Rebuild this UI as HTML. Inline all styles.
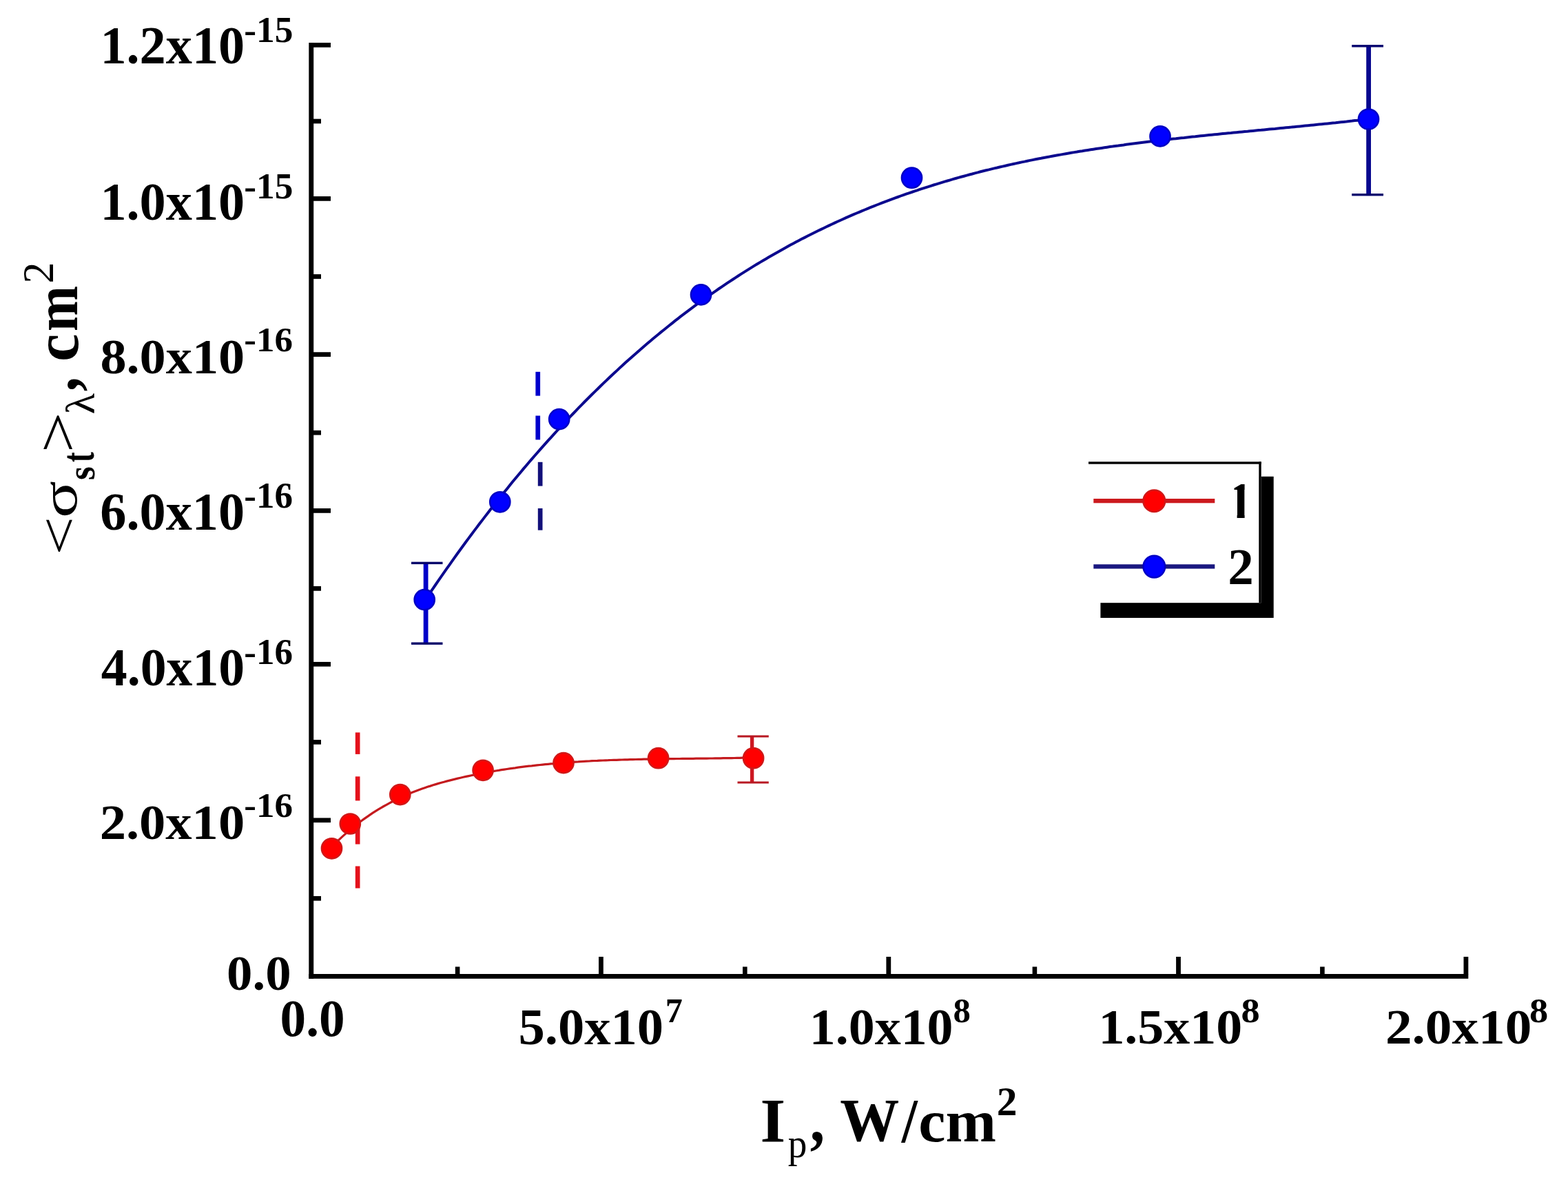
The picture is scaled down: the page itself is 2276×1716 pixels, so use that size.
<!DOCTYPE html>
<html><head><meta charset="utf-8"><style>
html,body{margin:0;padding:0;background:#fff;overflow:hidden}
svg{display:block}
</style></head><body>
<svg width="2276" height="1716" viewBox="0 0 2276 1716">
<rect x="0" y="0" width="2276" height="1716" fill="#fff"/>
<rect x="448.3" y="62" width="6.9" height="1358.8" fill="#000"/>
<rect x="448.3" y="1414.0" width="1683.0" height="6.8" fill="#000"/>
<rect x="454.7" y="62.05" width="25.3" height="6.7" fill="#000"/>
<rect x="454.7" y="285.05" width="25.3" height="6.7" fill="#000"/>
<rect x="454.7" y="511.25" width="25.3" height="6.7" fill="#000"/>
<rect x="454.7" y="738.05" width="25.3" height="6.7" fill="#000"/>
<rect x="454.7" y="960.95" width="25.3" height="6.7" fill="#000"/>
<rect x="454.7" y="1187.45" width="25.3" height="6.7" fill="#000"/>
<rect x="454.7" y="172.65" width="11.3" height="6.7" fill="#000"/>
<rect x="454.7" y="398.15" width="11.3" height="6.7" fill="#000"/>
<rect x="454.7" y="624.85" width="11.3" height="6.7" fill="#000"/>
<rect x="454.7" y="851.05" width="11.3" height="6.7" fill="#000"/>
<rect x="454.7" y="1074.05" width="11.3" height="6.7" fill="#000"/>
<rect x="454.7" y="1300.95" width="11.3" height="6.7" fill="#000"/>
<rect x="869.00" y="1389" width="6.8" height="25.5" fill="#000"/>
<rect x="1286.40" y="1389" width="6.8" height="25.5" fill="#000"/>
<rect x="1707.10" y="1389" width="6.8" height="25.5" fill="#000"/>
<rect x="2124.50" y="1389" width="6.8" height="25.5" fill="#000"/>
<rect x="660.80" y="1403.5" width="6.6" height="11.0" fill="#000"/>
<rect x="1078.00" y="1403.5" width="6.6" height="11.0" fill="#000"/>
<rect x="1498.60" y="1403.5" width="6.6" height="11.0" fill="#000"/>
<rect x="1916.10" y="1403.5" width="6.6" height="11.0" fill="#000"/>
<text transform="translate(145.40,92.11) scale(0.9792,1)" font-family="'Liberation Serif', serif" font-weight="bold" font-size="77.91" fill="#000">1.2x10</text>
<text transform="translate(354.33,60.87) scale(1.0131,1)" font-family="'Liberation Serif', serif" font-weight="bold" font-size="52.69" fill="#000">-15</text>
<text transform="translate(145.40,318.91) scale(0.9792,1)" font-family="'Liberation Serif', serif" font-weight="bold" font-size="77.91" fill="#000">1.0x10</text>
<text transform="translate(354.33,287.57) scale(1.0160,1)" font-family="'Liberation Serif', serif" font-weight="bold" font-size="52.54" fill="#000">-15</text>
<text transform="translate(145.38,542.18) scale(1.0466,1)" font-family="'Liberation Serif', serif" font-weight="bold" font-size="72.90" fill="#000">8.0x10</text>
<text transform="translate(354.34,510.19) scale(1.0301,1)" font-family="'Liberation Serif', serif" font-weight="bold" font-size="51.49" fill="#000">-16</text>
<text transform="translate(145.30,768.51) scale(0.9797,1)" font-family="'Liberation Serif', serif" font-weight="bold" font-size="77.91" fill="#000">6.0x10</text>
<text transform="translate(354.34,737.18) scale(1.0126,1)" font-family="'Liberation Serif', serif" font-weight="bold" font-size="52.38" fill="#000">-16</text>
<text transform="translate(146.84,994.91) scale(0.9724,1)" font-family="'Liberation Serif', serif" font-weight="bold" font-size="77.91" fill="#000">4.0x10</text>
<text transform="translate(354.34,963.57) scale(1.0097,1)" font-family="'Liberation Serif', serif" font-weight="bold" font-size="52.53" fill="#000">-16</text>
<text transform="translate(144.68,1217.88) scale(1.0501,1)" font-family="'Liberation Serif', serif" font-weight="bold" font-size="72.90" fill="#000">2.0x10</text>
<text transform="translate(354.34,1186.49) scale(1.0331,1)" font-family="'Liberation Serif', serif" font-weight="bold" font-size="51.34" fill="#000">-16</text>
<text transform="translate(329.06,1437.48) scale(1.0259,1)" font-family="'Liberation Serif', serif" font-weight="bold" font-size="72.90" fill="#000">0.0</text>
<text transform="translate(406.54,1503.64) scale(0.9955,1)" font-family="'Liberation Serif', serif" font-weight="bold" font-size="75.55" fill="#000">0.0</text>
<text transform="translate(752.54,1515.77) scale(1.0419,1)" font-family="'Liberation Serif', serif" font-weight="bold" font-size="73.49" fill="#000">5.0x10</text>
<text transform="translate(965.74,1483.70) scale(0.9741,1)" font-family="'Liberation Serif', serif" font-weight="bold" font-size="51.45" fill="#000">7</text>
<text transform="translate(1174.83,1515.67) scale(1.0309,1)" font-family="'Liberation Serif', serif" font-weight="bold" font-size="73.64" fill="#000">1.0x10</text>
<text transform="translate(1383.43,1483.89) scale(0.9947,1)" font-family="'Liberation Serif', serif" font-weight="bold" font-size="50.96" fill="#000">8</text>
<text transform="translate(1594.43,1515.48) scale(1.0434,1)" font-family="'Liberation Serif', serif" font-weight="bold" font-size="72.75" fill="#000">1.5x10</text>
<text transform="translate(1801.61,1483.89) scale(1.0670,1)" font-family="'Liberation Serif', serif" font-weight="bold" font-size="50.96" fill="#000">8</text>
<text transform="translate(2010.96,1515.48) scale(1.0610,1)" font-family="'Liberation Serif', serif" font-weight="bold" font-size="72.75" fill="#000">2.0x10</text>
<text transform="translate(2220.11,1483.89) scale(1.0670,1)" font-family="'Liberation Serif', serif" font-weight="bold" font-size="50.96" fill="#000">8</text>
<text transform="translate(1103.39,1657.80) scale(1.0341,1)" font-family="'Liberation Serif', serif" font-weight="bold" font-size="91.30" fill="#000">I</text>
<text transform="translate(1143.72,1680.19) scale(0.9268,1)" font-family="'Liberation Serif', serif" font-weight="normal" font-size="59.65" fill="#000">p</text>
<text transform="translate(1175.68,1657.37) scale(0.9106,1)" font-family="'Liberation Serif', serif" font-weight="bold" font-size="94.37" fill="#000">,</text>
<text transform="translate(1219.29,1656.46) scale(0.9645,1)" font-family="'Liberation Serif', serif" font-weight="bold" font-size="89.25" fill="#000">W</text>
<text transform="translate(1308.63,1658.09) scale(0.9090,1)" font-family="'Liberation Serif', serif" font-weight="bold" font-size="91.18" fill="#000">/</text>
<text transform="translate(1333.30,1657.02) scale(1.0134,1)" font-family="'Liberation Serif', serif" font-weight="bold" font-size="87.08" fill="#000">cm</text>
<text transform="translate(1446.80,1618.90) scale(1.0103,1)" font-family="'Liberation Serif', serif" font-weight="bold" font-size="58.91" fill="#000">2</text>
<text transform="rotate(-90) translate(-805.97,111.90) scale(1.2562,1)" font-family="'Liberation Serif', serif" font-weight="normal" font-size="79.09" fill="#000">&lt;</text>
<text transform="rotate(-90) translate(-752.02,111.27) scale(1.3685,1)" font-family="'Liberation Serif', serif" font-weight="normal" font-size="73.37" fill="#000">σ</text>
<text transform="rotate(-90) translate(-696.93,136.52) scale(0.8864,1)" font-family="'Liberation Serif', serif" font-weight="bold" font-size="57.59" fill="#000">s</text>
<text transform="rotate(-90) translate(-671.01,136.43) scale(0.6596,1)" font-family="'Liberation Serif', serif" font-weight="bold" font-size="66.84" fill="#000">t</text>
<text transform="rotate(-90) translate(-657.24,112.61) scale(1.2044,1)" font-family="'Liberation Serif', serif" font-weight="normal" font-size="86.96" fill="#000">&gt;</text>
<text transform="rotate(-90) translate(-601.54,136.60) scale(1.0790,1)" font-family="'Liberation Serif', serif" font-weight="normal" font-size="58.38" fill="#000">λ</text>
<text transform="rotate(-90) translate(-568.19,111.87) scale(0.8893,1)" font-family="'Liberation Serif', serif" font-weight="bold" font-size="94.37" fill="#000">,</text>
<text transform="rotate(-90) translate(-524.91,113.08) scale(1.0066,1)" font-family="'Liberation Serif', serif" font-weight="bold" font-size="90.83" fill="#000">c</text>
<text transform="rotate(-90) translate(-481.15,112.20) scale(0.8961,1)" font-family="'Liberation Serif', serif" font-weight="bold" font-size="88.96" fill="#000">m</text>
<text transform="rotate(-90) translate(-411.53,76.90) scale(0.9741,1)" font-family="'Liberation Serif', serif" font-weight="normal" font-size="63.75" fill="#000">2</text>
<path d="M616.2,872.5 L620.2,866.6 L624.2,860.7 L628.2,854.8 L632.2,849.0 L636.2,843.1 L640.2,837.4 L644.2,831.6 L648.2,825.9 L652.2,820.3 L656.2,814.7 L660.1,809.1 L664.1,803.5 L668.1,798.0 L672.1,792.5 L676.1,787.0 L680.1,781.6 L684.1,776.3 L688.1,770.9 L692.1,765.6 L696.1,760.3 L700.1,755.1 L704.1,749.9 L708.1,744.7 L712.1,739.5 L716.1,734.4 L720.1,729.4 L724.1,724.3 L728.1,719.3 L732.1,714.3 L736.1,709.4 L740.0,704.5 L744.0,699.6 L748.0,694.8 L752.0,690.0 L756.0,685.2 L760.0,680.4 L764.0,675.7 L768.0,671.0 L772.0,666.4 L776.0,661.8 L780.0,657.2 L784.0,652.6 L788.0,648.1 L792.0,643.6 L796.0,639.2 L800.0,634.8 L804.0,630.4 L808.0,626.0 L812.0,621.7 L816.0,617.4 L819.9,613.1 L823.9,608.8 L827.9,604.6 L831.9,600.5 L835.9,596.3 L839.9,592.2 L843.9,588.1 L847.9,584.0 L851.9,580.0 L855.9,576.0 L859.9,572.0 L863.9,568.1 L867.9,564.2 L871.9,560.3 L875.9,556.4 L879.9,552.6 L883.9,548.8 L887.9,545.0 L891.9,541.3 L895.9,537.6 L899.8,533.9 L903.8,530.2 L907.8,526.6 L911.8,523.0 L915.8,519.4 L919.8,515.9 L923.8,512.4 L927.8,508.9 L931.8,505.4 L935.8,502.0 L939.8,498.6 L943.8,495.2 L947.8,491.8 L951.8,488.5 L955.8,485.2 L959.8,481.9 L963.8,478.7 L967.8,475.5 L971.8,472.3 L975.8,469.1 L979.7,465.9 L983.7,462.8 L987.7,459.7 L991.7,456.7 L995.7,453.6 L999.7,450.6 L1003.7,447.6 L1007.7,444.6 L1011.7,441.7 L1015.7,438.8 L1019.7,435.9 L1023.7,433.0 L1027.7,430.2 L1031.7,427.4 L1035.7,424.6 L1039.7,421.8 L1043.7,419.0 L1047.7,416.3 L1051.7,413.6 L1055.7,410.9 L1059.6,408.3 L1063.6,405.7 L1067.6,403.1 L1071.6,400.5 L1075.6,397.9 L1079.6,395.4 L1083.6,392.9 L1087.6,390.4 L1091.6,387.9 L1095.6,385.4 L1099.6,383.0 L1103.6,380.6 L1107.6,378.2 L1111.6,375.9 L1115.6,373.5 L1119.6,371.2 L1123.6,368.9 L1127.6,366.7 L1131.6,364.4 L1135.6,362.2 L1139.6,360.0 L1143.5,357.8 L1147.5,355.6 L1151.5,353.5 L1155.5,351.3 L1159.5,349.2 L1163.5,347.1 L1167.5,345.1 L1171.5,343.0 L1175.5,341.0 L1179.5,339.0 L1183.5,337.0 L1187.5,335.0 L1191.5,333.1 L1195.5,331.2 L1199.5,329.3 L1203.5,327.4 L1207.5,325.5 L1211.5,323.6 L1215.5,321.8 L1219.5,320.0 L1223.4,318.2 L1227.4,316.4 L1231.4,314.7 L1235.4,312.9 L1239.4,311.2 L1243.4,309.5 L1247.4,307.8 L1251.4,306.1 L1255.4,304.5 L1259.4,302.8 L1263.4,301.2 L1267.4,299.6 L1271.4,298.0 L1275.4,296.5 L1279.4,294.9 L1283.4,293.4 L1287.4,291.9 L1291.4,290.4 L1295.4,288.9 L1299.4,287.4 L1303.3,286.0 L1307.3,284.5 L1311.3,283.1 L1315.3,281.7 L1319.3,280.3 L1323.3,279.0 L1327.3,277.6 L1331.3,276.3 L1335.3,274.9 L1339.3,273.6 L1343.3,272.3 L1347.3,271.1 L1351.3,269.8 L1355.3,268.5 L1359.3,267.3 L1363.3,266.1 L1367.3,264.9 L1371.3,263.7 L1375.3,262.5 L1379.3,261.3 L1383.2,260.2 L1387.2,259.0 L1391.2,257.9 L1395.2,256.8 L1399.2,255.7 L1403.2,254.6 L1407.2,253.5 L1411.2,252.5 L1415.2,251.4 L1419.2,250.4 L1423.2,249.3 L1427.2,248.3 L1431.2,247.3 L1435.2,246.4 L1439.2,245.4 L1443.2,244.4 L1447.2,243.5 L1451.2,242.5 L1455.2,241.6 L1459.2,240.7 L1463.1,239.8 L1467.1,238.9 L1471.1,238.0 L1475.1,237.1 L1479.1,236.3 L1483.1,235.4 L1487.1,234.6 L1491.1,233.7 L1495.1,232.9 L1499.1,232.1 L1503.1,231.3 L1507.1,230.5 L1511.1,229.8 L1515.1,229.0 L1519.1,228.2 L1523.1,227.5 L1527.1,226.7 L1531.1,226.0 L1535.1,225.3 L1539.1,224.6 L1543.1,223.9 L1547.0,223.2 L1551.0,222.5 L1555.0,221.8 L1559.0,221.1 L1563.0,220.5 L1567.0,219.8 L1571.0,219.2 L1575.0,218.5 L1579.0,217.9 L1583.0,217.3 L1587.0,216.7 L1591.0,216.1 L1595.0,215.5 L1599.0,214.9 L1603.0,214.3 L1607.0,213.7 L1611.0,213.1 L1615.0,212.6 L1619.0,212.0 L1623.0,211.5 L1626.9,210.9 L1630.9,210.4 L1634.9,209.8 L1638.9,209.3 L1642.9,208.8 L1646.9,208.3 L1650.9,207.8 L1654.9,207.3 L1658.9,206.8 L1662.9,206.3 L1666.9,205.8 L1670.9,205.3 L1674.9,204.8 L1678.9,204.4 L1682.9,203.9 L1686.9,203.4 L1690.9,203.0 L1694.9,202.5 L1698.9,202.1 L1702.9,201.6 L1706.8,201.2 L1710.8,200.7 L1714.8,200.3 L1718.8,199.9 L1722.8,199.4 L1726.8,199.0 L1730.8,198.6 L1734.8,198.2 L1738.8,197.7 L1742.8,197.3 L1746.8,196.9 L1750.8,196.5 L1754.8,196.1 L1758.8,195.7 L1762.8,195.3 L1766.8,194.9 L1770.8,194.5 L1774.8,194.1 L1778.8,193.7 L1782.8,193.3 L1786.7,193.0 L1790.7,192.6 L1794.7,192.2 L1798.7,191.8 L1802.7,191.4 L1806.7,191.0 L1810.7,190.7 L1814.7,190.3 L1818.7,189.9 L1822.7,189.5 L1826.7,189.1 L1830.7,188.8 L1834.7,188.4 L1838.7,188.0 L1842.7,187.6 L1846.7,187.2 L1850.7,186.9 L1854.7,186.5 L1858.7,186.1 L1862.7,185.7 L1866.6,185.3 L1870.6,184.9 L1874.6,184.6 L1878.6,184.2 L1882.6,183.8 L1886.6,183.4 L1890.6,183.0 L1894.6,182.6 L1898.6,182.2 L1902.6,181.8 L1906.6,181.4 L1910.6,181.0 L1914.6,180.6 L1918.6,180.2 L1922.6,179.8 L1926.6,179.4 L1930.6,179.0 L1934.6,178.6 L1938.6,178.2 L1942.6,177.7 L1946.5,177.3 L1950.5,176.9 L1954.5,176.5 L1958.5,176.0 L1962.5,175.6 L1966.5,175.1 L1970.5,174.7 L1974.5,174.2 L1978.5,173.8 L1982.5,173.3 L1986.5,172.9" fill="none" stroke="#0c0a8e" stroke-width="4"/>
<path d="M481.5,1229.4 L485.5,1225.4 L489.4,1221.6 L493.4,1217.8 L497.4,1214.1 L501.4,1210.6 L505.3,1207.1 L509.3,1203.8 L513.3,1200.5 L517.3,1197.3 L521.2,1194.3 L525.2,1191.3 L529.2,1188.4 L533.2,1185.6 L537.1,1182.9 L541.1,1180.2 L545.1,1177.7 L549.1,1175.2 L553.0,1172.8 L557.0,1170.5 L561.0,1168.3 L565.0,1166.1 L568.9,1164.0 L572.9,1162.0 L576.9,1160.0 L580.9,1158.1 L584.8,1156.3 L588.8,1154.5 L592.8,1152.8 L596.8,1151.1 L600.7,1149.6 L604.7,1148.0 L608.7,1146.5 L612.7,1145.1 L616.6,1143.7 L620.6,1142.3 L624.6,1141.1 L628.6,1139.8 L632.5,1138.6 L636.5,1137.4 L640.5,1136.3 L644.5,1135.2 L648.4,1134.1 L652.4,1133.1 L656.4,1132.1 L660.4,1131.1 L664.3,1130.1 L668.3,1129.2 L672.3,1128.3 L676.3,1127.4 L680.2,1126.6 L684.2,1125.7 L688.2,1124.9 L692.2,1124.1 L696.1,1123.3 L700.1,1122.6 L704.1,1121.8 L708.1,1121.1 L712.0,1120.4 L716.0,1119.7 L720.0,1119.0 L724.0,1118.4 L727.9,1117.7 L731.9,1117.1 L735.9,1116.5 L739.9,1115.9 L743.8,1115.3 L747.8,1114.8 L751.8,1114.2 L755.8,1113.7 L759.7,1113.2 L763.7,1112.7 L767.7,1112.2 L771.7,1111.8 L775.6,1111.3 L779.6,1110.9 L783.6,1110.5 L787.5,1110.1 L791.5,1109.7 L795.5,1109.3 L799.5,1108.9 L803.4,1108.6 L807.4,1108.2 L811.4,1107.9 L815.4,1107.6 L819.3,1107.2 L823.3,1107.0 L827.3,1106.7 L831.3,1106.4 L835.2,1106.1 L839.2,1105.9 L843.2,1105.6 L847.2,1105.4 L851.1,1105.2 L855.1,1105.0 L859.1,1104.7 L863.1,1104.5 L867.0,1104.4 L871.0,1104.2 L875.0,1104.0 L879.0,1103.8 L882.9,1103.7 L886.9,1103.5 L890.9,1103.4 L894.9,1103.3 L898.8,1103.1 L902.8,1103.0 L906.8,1102.9 L910.8,1102.8 L914.7,1102.7 L918.7,1102.6 L922.7,1102.5 L926.7,1102.4 L930.6,1102.3 L934.6,1102.2 L938.6,1102.2 L942.6,1102.1 L946.5,1102.0 L950.5,1101.9 L954.5,1101.9 L958.5,1101.8 L962.4,1101.8 L966.4,1101.7 L970.4,1101.7 L974.4,1101.6 L978.3,1101.6 L982.3,1101.5 L986.3,1101.5 L990.3,1101.4 L994.2,1101.4 L998.2,1101.4 L1002.2,1101.3 L1006.2,1101.3 L1010.1,1101.2 L1014.1,1101.2 L1018.1,1101.1 L1022.1,1101.1 L1026.0,1101.1 L1030.0,1101.0 L1034.0,1101.0 L1038.0,1100.9 L1041.9,1100.9 L1045.9,1100.8 L1049.9,1100.7 L1053.9,1100.7 L1057.8,1100.6 L1061.8,1100.6 L1065.8,1100.5 L1069.8,1100.4 L1073.7,1100.3 L1077.7,1100.2 L1081.7,1100.2 L1085.7,1100.1 L1089.6,1100.0 L1093.6,1099.9" fill="none" stroke="#c41a1e" stroke-width="3.2"/>
<rect x="777.4" y="539.8" width="6.7" height="34.8" fill="#0000cc"/>
<rect x="777.4" y="603.5" width="6.7" height="34.9" fill="#0000cc"/>
<rect x="780.8" y="670.8" width="6.7" height="34.8" fill="#12107a"/>
<rect x="780.8" y="738" width="6.7" height="31.7" fill="#12107a"/>
<rect x="515.8" y="1063.4" width="6.7" height="31.5" fill="#e4121c"/>
<rect x="515.8" y="1127.3" width="6.7" height="35.1" fill="#e4121c"/>
<rect x="515.8" y="1191" width="6.7" height="34.6" fill="#e4121c"/>
<rect x="515.8" y="1257.5" width="6.7" height="32.0" fill="#e4121c"/>
<rect x="614.70" y="817.4" width="6.8" height="116.8" fill="#0000c8"/><rect x="597" y="815.7" width="45.5" height="3.4" fill="#06046a"/><rect x="597" y="932.5" width="45.5" height="3.4" fill="#06046a"/>
<rect x="1983.20" y="66.8" width="6.8" height="215.9" fill="#08088e"/><rect x="1962.2" y="65.1" width="45.8" height="3.4" fill="#06046e"/><rect x="1962.2" y="281.0" width="45.8" height="3.4" fill="#06046e"/>
<rect x="1088.90" y="1069.0" width="5.4" height="67.0" fill="#cc1822"/><rect x="1070.5" y="1067.5" width="45.3" height="3.0" fill="#b81822"/><rect x="1070.5" y="1134.5" width="45.3" height="3.0" fill="#b81822"/>
<circle cx="616.2" cy="870.6" r="14.6" fill="#0000ff" stroke="#0000c4" stroke-width="2.5"/>
<circle cx="725.8" cy="728.8" r="14.6" fill="#0000ff" stroke="#0000c4" stroke-width="2.5"/>
<circle cx="811.7" cy="608.6" r="14.6" fill="#0000ff" stroke="#0000c4" stroke-width="2.5"/>
<circle cx="1017.5" cy="427.9" r="14.6" fill="#0000ff" stroke="#0000c4" stroke-width="2.5"/>
<circle cx="1323.5" cy="258.2" r="14.6" fill="#0000ff" stroke="#0000c4" stroke-width="2.5"/>
<circle cx="1684" cy="197.9" r="14.6" fill="#0000ff" stroke="#0000c4" stroke-width="2.5"/>
<circle cx="1986.5" cy="173" r="14.6" fill="#0000ff" stroke="#0000c4" stroke-width="2.5"/>
<circle cx="481.5" cy="1231.8" r="14.6" fill="#ff0000" stroke="#d01818" stroke-width="2.5"/>
<circle cx="508.3" cy="1196" r="14.6" fill="#ff0000" stroke="#d01818" stroke-width="2.5"/>
<circle cx="580.8" cy="1153.6" r="14.6" fill="#ff0000" stroke="#d01818" stroke-width="2.5"/>
<circle cx="701.1" cy="1118.3" r="14.6" fill="#ff0000" stroke="#d01818" stroke-width="2.5"/>
<circle cx="818" cy="1107.6" r="14.6" fill="#ff0000" stroke="#d01818" stroke-width="2.5"/>
<circle cx="955.6" cy="1100.7" r="14.6" fill="#ff0000" stroke="#d01818" stroke-width="2.5"/>
<circle cx="1093.6" cy="1100.7" r="14.6" fill="#ff0000" stroke="#d01818" stroke-width="2.5"/>
<rect x="1597.4" y="691.8" width="251.3" height="205.2" fill="#000"/>
<rect x="1580" y="670.3" width="250.7" height="204.9" fill="#fff"/>
<rect x="1580" y="670.3" width="250.7" height="3.4" fill="#000"/>
<rect x="1827.3" y="670.3" width="3.4" height="204.9" fill="#000"/>
<rect x="1587.3" y="724" width="176" height="6.3" fill="#cc1a1e"/>
<rect x="1587.3" y="819.3" width="176" height="6.3" fill="#1a1880"/>
<circle cx="1675.3" cy="727.2" r="15.8" fill="#ff0000" stroke="#d01818" stroke-width="2.5"/>
<circle cx="1675.3" cy="822.6" r="15.8" fill="#0000ff" stroke="#0000c4" stroke-width="2.5"/>
<defs><clipPath id="c1"><rect x="1795.6" y="690" width="11" height="70"/><rect x="1791.5" y="690" width="16" height="21"/></clipPath></defs>
<text clip-path="url(#c1)" x="1781.43" y="751.7" font-family="'Liberation Serif', serif" font-weight="bold" font-size="75">1</text>
<text transform="translate(1782.15,847.50) scale(1.0022,1)" font-family="'Liberation Serif', serif" font-weight="bold" font-size="74.77" fill="#000">2</text>
</svg>
</body></html>
